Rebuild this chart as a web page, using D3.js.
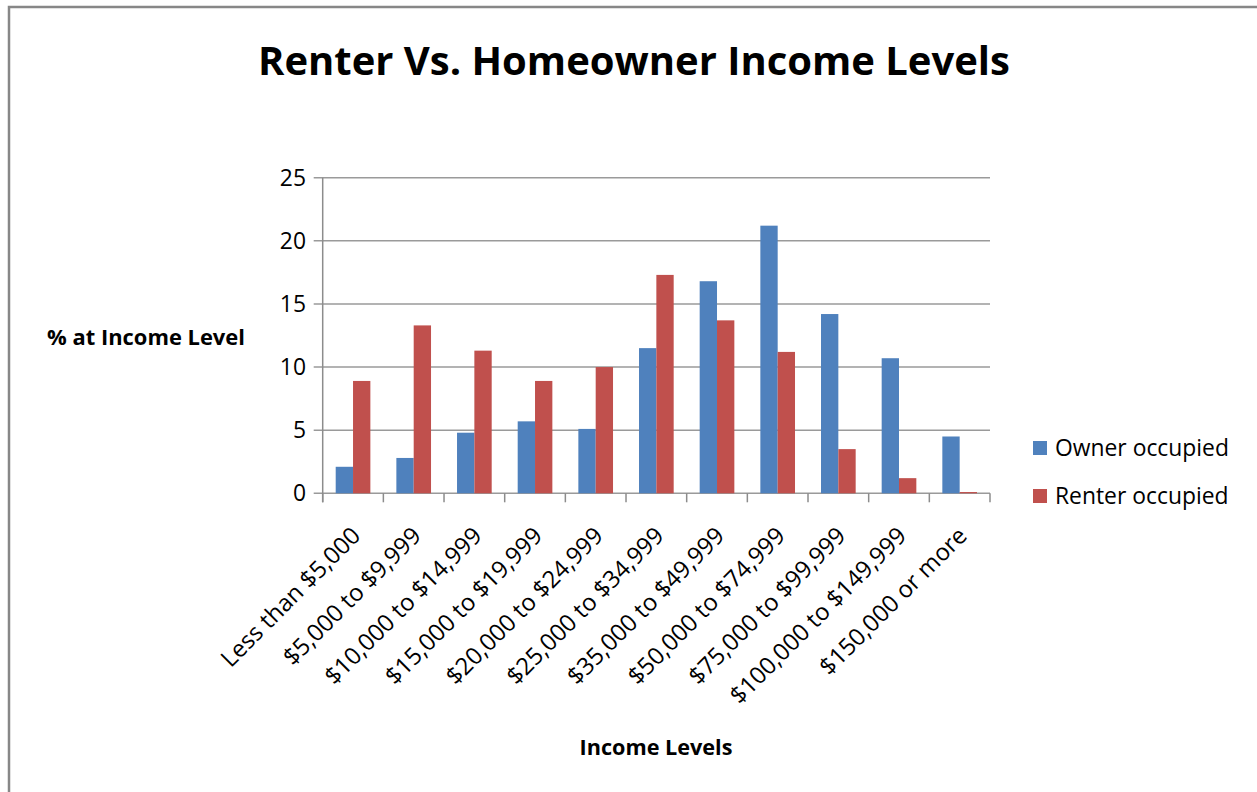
<!DOCTYPE html>
<html>
<head>
<meta charset="utf-8">
<script src="https://cdn.jsdelivr.net/npm/d3@7"></script>
<style>
  body { margin: 0; background: #fff; }
  text { font-family: "Open Sans", "Noto Sans", sans-serif; fill: #000; }
</style>
</head>
<body>
<div class="chart"></div>
<script>
const categories = ["Less than $5,000", "$5,000 to $9,999", "$10,000 to $14,999", "$15,000 to $19,999",
  "$20,000 to $24,999", "$25,000 to $34,999", "$35,000 to $49,999", "$50,000 to $74,999",
  "$75,000 to $99,999", "$100,000 to $149,999", "$150,000 or more"]
const seriesNames = ["Owner occupied", "Renter occupied"]
const owner = [2.1, 2.8, 4.8, 5.7, 5.1, 11.5, 16.8, 21.2, 14.2, 10.7, 4.5]
const renter = [8.9, 13.3, 11.3, 8.9, 10.0, 17.3, 13.7, 11.2, 3.5, 1.2, 0.1]
const yTicks = [0, 5, 10, 15, 20, 25]
const colors = ["#4F81BD", "#C0504D"]

const width = 1257, height = 792
const plotL = 322.7, plotR = 990, plotT = 177.7, plotB = 493.3

const svg = d3.select(".chart").append("svg")
  .attr("width", width)
  .attr("height", height)

svg.append("rect")
  .attr("x", 9).attr("y", 7)
  .attr("width", 1300).attr("height", 900)
  .attr("fill", "#fff")
  .attr("stroke", "#878787")
  .attr("stroke-width", 2.5)

let x0 = d3.scaleBand().domain(categories).range([plotL, plotR])
let x1 = d3.scaleBand().domain(seriesNames).range([0, x0.bandwidth()]).paddingOuter(0.75)
let y = d3.scaleLinear().domain([0, 25]).range([plotB, plotT])

// fit text to a width
function fit(sel, target, start) {
  sel.style("font-size", start + "px")
  let w = sel.node().getComputedTextLength()
  let s = start * target / w
  sel.style("font-size", s + "px")
  return s
}

// gridlines
svg.selectAll(".grid")
  .data(yTicks)
  .enter()
  .append("line")
  .attr("x1", plotL - 9).attr("x2", plotR)
  .attr("y1", d => y(d)).attr("y2", d => y(d))
  .attr("stroke", "#9a9a9a")
  .attr("stroke-width", 1.6)

// y axis line
svg.append("line")
  .attr("x1", plotL).attr("x2", plotL)
  .attr("y1", plotT).attr("y2", plotB + 9)
  .attr("stroke", "#8c8c8c")
  .attr("stroke-width", 1.5)

// x ticks at band edges
svg.selectAll(".xtick")
  .data(d3.range(categories.length + 1))
  .enter()
  .append("line")
  .attr("x1", i => plotL + i * x0.step()).attr("x2", i => plotL + i * x0.step())
  .attr("y1", plotB).attr("y2", plotB + 9)
  .attr("stroke", "#8c8c8c")
  .attr("stroke-width", 1.5)

// bars
let groups = svg.selectAll(".cat")
  .data(categories)
  .enter()
  .append("g")
  .attr("transform", d => `translate(${x0(d)},0)`)

groups.selectAll("rect")
  .data((d, i) => [owner[i], renter[i]].map((v, j) => ({ key: seriesNames[j], value: v, c: colors[j] })))
  .enter()
  .append("rect")
  .attr("x", d => x1(d.key))
  .attr("width", x1.bandwidth())
  .attr("y", d => y(d.value))
  .attr("height", d => y(0) - y(d.value))
  .attr("fill", d => d.c)

// legend first, its size sets the normal text size
let leg = svg.selectAll(".leg")
  .data(seriesNames)
  .enter()
  .append("g")
  .attr("transform", (d, i) => `translate(1033,${441 + i * 48})`)

leg.append("rect")
  .attr("width", 14).attr("height", 14)
  .attr("fill", (d, i) => colors[i])

leg.append("text")
  .attr("x", 22).attr("y", 14.5)
  .text(d => d)

let fs = fit(leg.select("text").filter((d, i) => i == 0), 174, 20)
leg.selectAll("text").style("font-size", fs + "px")

// y tick labels
svg.selectAll(".ylab")
  .data(yTicks)
  .enter()
  .append("text")
  .attr("x", 306)
  .attr("y", d => y(d))
  .attr("dy", "0.35em")
  .attr("text-anchor", "end")
  .style("font-size", fs + "px")
  .text(d => d)

// x tick labels, rotated
svg.selectAll(".xlab")
  .data(categories)
  .enter()
  .append("text")
  .attr("transform", d => `translate(${x0(d) + x0.bandwidth() / 2 + 3},${plotB + 38}) rotate(-45)`)
  .attr("text-anchor", "end")
  .attr("dy", "0.35em")
  .style("font-size", (fs * 1.04) + "px")
  .text(d => d)

// titles
let title = svg.append("text")
  .attr("x", 634).attr("y", 75)
  .attr("text-anchor", "middle")
  .style("font-weight", "bold")
  .text("Renter Vs. Homeowner Income Levels")
fit(title, 752, 40)

let ylab = svg.append("text")
  .attr("x", 146).attr("y", 345)
  .attr("text-anchor", "middle")
  .style("font-weight", "bold")
  .text("% at Income Level")
fit(ylab, 198, 20)

let xlab = svg.append("text")
  .attr("x", 656).attr("y", 755)
  .attr("text-anchor", "middle")
  .style("font-weight", "bold")
  .text("Income Levels")
fit(xlab, 153, 20)
</script>
</body>
</html>
